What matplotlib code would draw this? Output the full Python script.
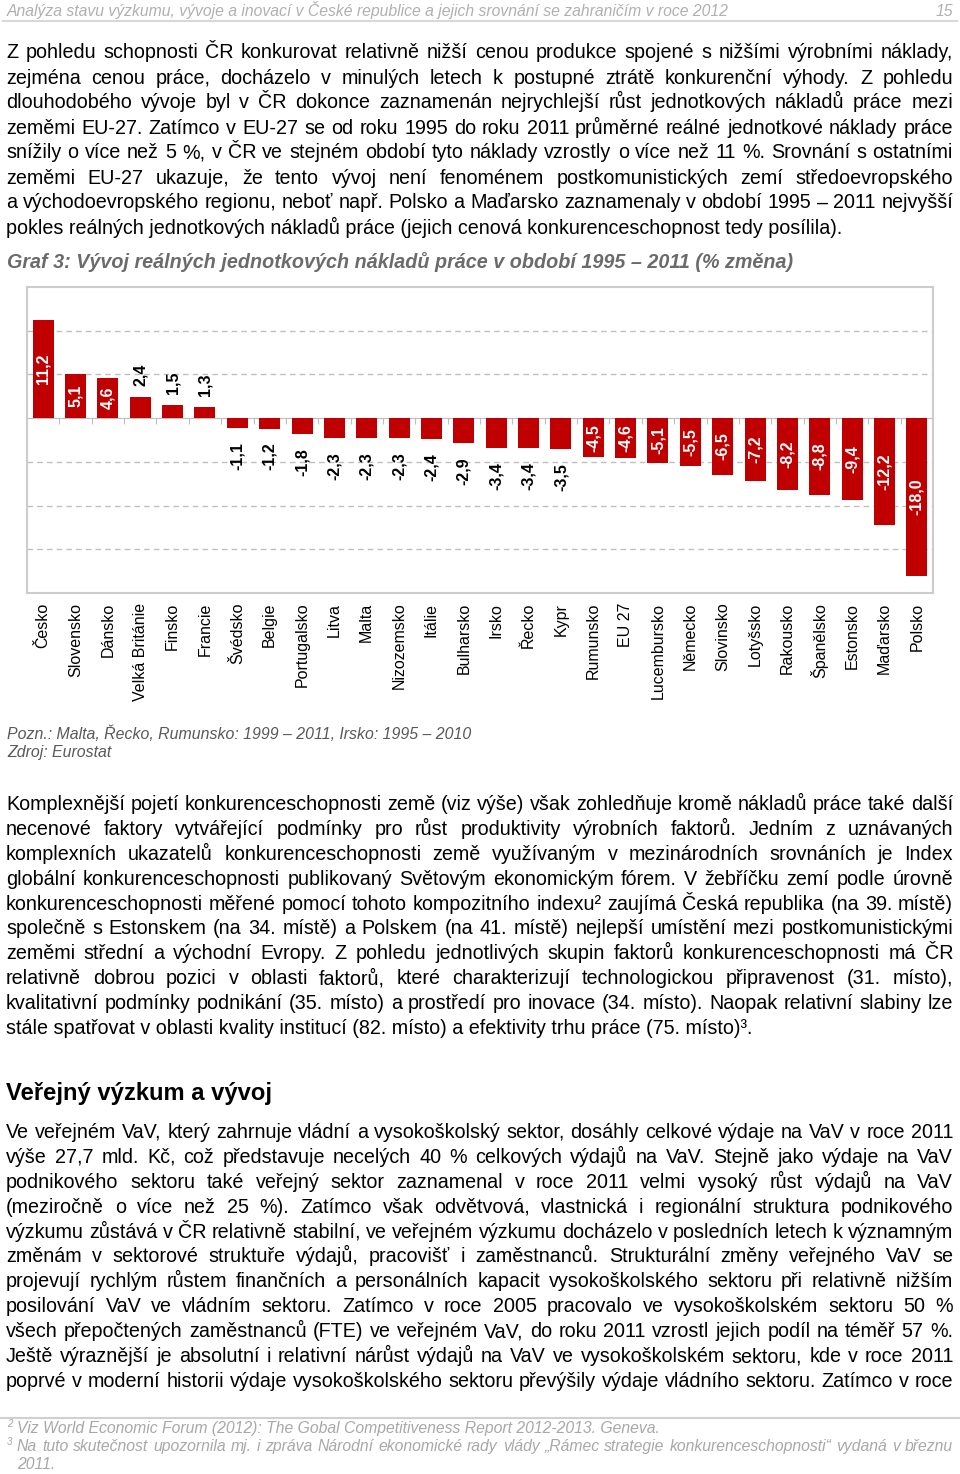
import numpy as np
import matplotlib
matplotlib.use("Agg")
import matplotlib.pyplot as plt
from matplotlib.patches import Rectangle

plt.rcParams['font.family'] = ['Liberation Sans', 'DejaVu Sans']

# data
countries = ["Česko", "Slovensko", "Dánsko", "Velká Británie", "Finsko", "Francie",
             "Švédsko", "Belgie", "Portugalsko", "Litva", "Malta", "Nizozemsko",
             "Itálie", "Bulharsko", "Irsko", "Řecko", "Kypr", "Rumunsko", "EU 27",
             "Lucembursko", "Německo", "Slovinsko", "Lotyšsko", "Rakousko",
             "Španělsko", "Estonsko", "Maďarsko", "Polsko"]
values = [11.2, 5.1, 4.6, 2.4, 1.5, 1.3, -1.1, -1.2, -1.8, -2.3, -2.3, -2.3,
          -2.4, -2.9, -3.4, -3.4, -3.5, -4.5, -4.6, -5.1, -5.5, -6.5, -7.2,
          -8.2, -8.8, -9.4, -12.2, -18.0]
grid_levels = [-15, -10, -5, 5, 10]

header = "Analýza stavu výzkumu, vývoje a inovací v České republice a jejich srovnání se zahraničím v roce 2012"
page_no = "15"

para1 = [
    "Z pohledu schopnosti ČR konkurovat relativně nižší cenou produkce spojené s nižšími výrobními náklady,",
    "zejména cenou práce, docházelo v minulých letech k postupné ztrátě konkurenční výhody. Z pohledu",
    "dlouhodobého vývoje byl v ČR dokonce zaznamenán nejrychlejší růst jednotkových nákladů práce mezi",
    "zeměmi EU-27. Zatímco v EU-27 se od roku 1995 do roku 2011 průměrné reálné jednotkové náklady práce",
    "snížily o více než 5\u00a0%, v ČR ve stejném období tyto náklady vzrostly o více než 11\u00a0%. Srovnání s ostatními",
    "zeměmi EU-27 ukazuje, že tento vývoj není fenoménem postkomunistických zemí středoevropského",
    "a východoevropského regionu, neboť např. Polsko a Maďarsko zaznamenaly v období 1995\u00a0–\u00a02011 nejvyšší",
    "pokles reálných jednotkových nákladů práce (jejich cenová konkurenceschopnost tedy posílila).",
]
chart_title = "Graf 3: Vývoj reálných jednotkových nákladů práce v období 1995 – 2011 (% změna)"
note = "Pozn.: Malta, Řecko, Rumunsko: 1999 – 2011, Irsko: 1995 – 2010"
source = "Zdroj: Eurostat"

para2 = [
    "Komplexnější pojetí konkurenceschopnosti země (viz výše) však zohledňuje kromě nákladů práce také další",
    "necenové faktory vytvářející podmínky pro růst produktivity výrobních faktorů. Jedním z uznávaných",
    "komplexních ukazatelů konkurenceschopnosti země využívaným v mezinárodních srovnáních je Index",
    "globální konkurenceschopnosti publikovaný Světovým ekonomickým fórem. V žebříčku zemí podle úrovně",
    "konkurenceschopnosti měřené pomocí tohoto kompozitního indexu² zaujímá Česká republika (na 39. místě)",
    "společně s Estonskem (na 34. místě) a Polskem (na 41. místě) nejlepší umístění mezi postkomunistickými",
    "zeměmi střední a východní Evropy. Z pohledu jednotlivých skupin faktorů konkurenceschopnosti má ČR",
    "relativně dobrou pozici v oblasti faktorů, které charakterizují technologickou připravenost (31. místo),",
    "kvalitativní podmínky podnikání (35. místo) a prostředí pro inovace (34. místo). Naopak relativní slabiny lze",
    "stále spatřovat v oblasti kvality institucí (82. místo) a efektivity trhu práce (75. místo)³.",
]
heading = "Veřejný výzkum a vývoj"
para3 = [
    "Ve veřejném VaV, který zahrnuje vládní a vysokoškolský sektor, dosáhly celkové výdaje na VaV v roce 2011",
    "výše 27,7 mld. Kč, což představuje necelých 40\u00a0% celkových výdajů na VaV.  Stejně jako výdaje na VaV",
    "podnikového sektoru také veřejný sektor zaznamenal v roce 2011 velmi vysoký růst výdajů na VaV",
    "(meziročně o více než 25\u00a0%).  Zatímco však odvětvová, vlastnická i regionální struktura podnikového",
    "výzkumu zůstává v ČR relativně stabilní, ve veřejném výzkumu docházelo v posledních letech k významným",
    "změnám v sektorové struktuře výdajů, pracovišť i zaměstnanců. Strukturální změny veřejného VaV se",
    "projevují rychlým růstem finančních a personálních kapacit vysokoškolského sektoru při relativně nižším",
    "posilování VaV ve vládním sektoru. Zatímco v roce 2005 pracovalo ve vysokoškolském sektoru 50\u00a0%",
    "všech přepočtených zaměstnanců (FTE) ve veřejném VaV, do roku 2011 vzrostl jejich podíl na téměř 57\u00a0%.",
    "Ještě výraznější je absolutní i relativní nárůst výdajů na VaV ve vysokoškolském sektoru, kde v roce 2011",
    "poprvé v moderní historii výdaje vysokoškolského sektoru převýšily výdaje vládního sektoru. Zatímco v roce",
]
footnote2 = "Viz World Economic Forum (2012): The Gobal Competitiveness Report 2012-2013. Geneva."
footnote3 = ["Na tuto skutečnost upozornila mj. i zpráva Národní ekonomické rady vlády „Rámec strategie konkurenceschopnosti“ vydaná v březnu",
             "2011."]

W, H = 960, 1474
fig = plt.figure(figsize=(W / 100, H / 100), dpi=100)
renderer = fig.canvas.get_renderer()


def fx(x):
    return x / W


def fy(y):
    return 1 - y / H


def justify(lines, y0, step, x0=6, x1=953, last_left=True, **kw):
    for i, line in enumerate(lines):
        y = fy(y0 + i * step)
        if i == len(lines) - 1 and last_left:
            fig.text(fx(x0), y, line, va='baseline', **kw)
            continue
        words = line.split()
        objs = [fig.text(0, y, w, va='baseline', **kw) for w in words]
        widths = [o.get_window_extent(renderer).width for o in objs]
        gap = (x1 - x0 - sum(widths)) / max(len(words) - 1, 1)
        x = x0
        for o, w in zip(objs, widths):
            o.set_x(fx(x))
            x += w + gap


narrow = ['Liberation Sans Narrow', 'Liberation Sans']

# header
fig.text(fx(7), fy(16), header, fontsize=11.3, style='italic', color='#b0b0b0', family=narrow, va='baseline')
fig.text(fx(953), fy(16), page_no, fontsize=11.3, style='italic', color='#b0b0b0', family=narrow,
         va='baseline', ha='right')
fig.add_artist(plt.Line2D([fx(3), fx(957)], [fy(21), fy(21)], color='#d8d8d8', lw=1.5))

body = dict(fontsize=14.2, color='black')
justify(para1, 58.5, 25, **body)

fig.text(fx(7), fy(268), chart_title, fontsize=14.2, weight='bold', style='italic', color='#6b6b6b',
         va='baseline')

# chart
ax = fig.add_axes([fx(27), fy(593), fx(933) - fx(27), (593 - 287) / H])
x = np.arange(len(countries))
ax.bar(x, values, width=0.65, color='#c00000', zorder=3)
ax.set_xlim(-0.5, len(countries) - 0.5)
ax.set_ylim(-20, 15)
ax.set_yticks(grid_levels)
ax.yaxis.grid(True, color='#bfbfbf', ls=(0, (4, 3)), lw=1)
ax.tick_params(axis='y', length=0, labelleft=False)
ax.set_axisbelow(True)
for s in ['left', 'right', 'top']:
    ax.spines[s].set_visible(False)
ax.spines['bottom'].set_position(('data', 0))
ax.spines['bottom'].set_color('#bdbdbd')
ax.set_xticks(x[:-1] + 0.5)
ax.tick_params(axis='x', length=4, color='#bdbdbd', labelbottom=False, direction='out')
ax.add_patch(Rectangle((0, 0), 1, 1, transform=ax.transAxes, fill=False, ec='#cccccc', lw=1.5,
                       clip_on=False, zorder=5))

for i, v in enumerate(values):
    lab = f"{v:.1f}".replace('.', ',')
    if abs(v) > 4:
        ax.text(i, v / 2, lab, rotation=90, ha='center', va='center', color='white',
                fontsize=11.5, weight='bold', zorder=4)
    elif v > 0:
        ax.annotate(lab, (i, v), xytext=(0, 8), textcoords='offset points', rotation=90,
                    ha='center', va='bottom', fontsize=11.5, weight='bold')
    else:
        ax.annotate(lab, (i, v), xytext=(0, -10), textcoords='offset points', rotation=90,
                    ha='center', va='top', fontsize=11.5, weight='bold')

for i, c in enumerate(countries):
    ax.annotate(c, (i, 0), xycoords=('data', 'axes fraction'), xytext=(0, -7),
                textcoords='offset points', rotation=90, ha='center', va='top', fontsize=11.5)

fig.text(fx(7), fy(739), note, fontsize=11.4, style='italic', color='#595959', va='baseline')
fig.text(fx(7), fy(757), source, fontsize=11.4, style='italic', color='#595959', va='baseline')

justify(para2, 810, 24.9, **body)
fig.text(fx(6), fy(1100), heading, fontsize=17.1, weight='bold', va='baseline')
justify(para3, 1138, 24.9, last_left=False, **body)

# footnotes
fig.add_artist(plt.Line2D([fx(0), fx(960)], [fy(1418), fy(1418)], color='#d0d0d0', lw=1.5))
foot = dict(fontsize=11.3, style='italic', color='#a8a8a8', family=narrow)
fig.text(fx(7), fy(1427), "2", fontsize=7, style='italic', color='#a8a8a8', family=narrow, va='baseline')
fig.text(fx(17), fy(1433), footnote2, va='baseline', **foot)
fig.text(fx(7), fy(1445), "3", fontsize=7, style='italic', color='#a8a8a8', family=narrow, va='baseline')
justify(footnote3, 1451, 18, x0=17, **foot)

fig.savefig("out.png", dpi=100)
